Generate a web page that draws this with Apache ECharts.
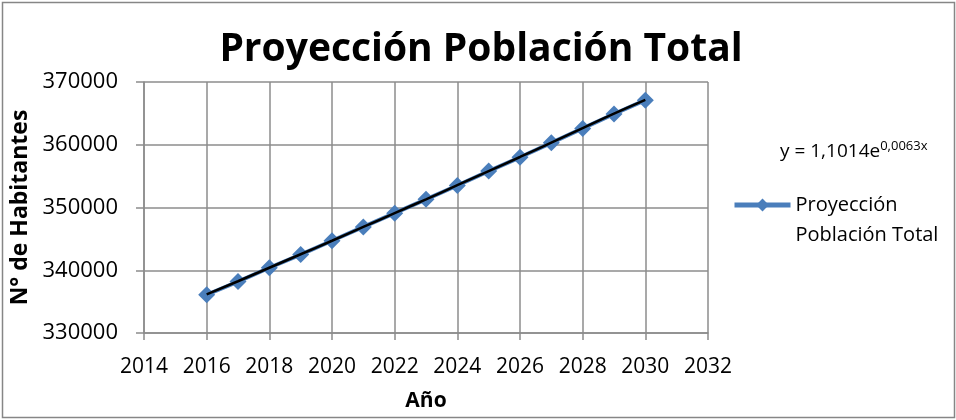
<!DOCTYPE html>
<html>
<head>
<meta charset="utf-8">
<script src="https://cdn.jsdelivr.net/npm/echarts@6/dist/echarts.min.js"></script>
<style>
  html, body { margin: 0; padding: 0; background: #fff; }
  #chart { width: 956px; height: 420px; }
</style>
</head>
<body>
<div id="chart"></div>
<script>
// datos
var years = [2016, 2017, 2018, 2019, 2020, 2021, 2022, 2023, 2024, 2025, 2026, 2027, 2028, 2029, 2030];
var population = [336100, 338200, 340400, 342500, 344700, 346900, 349100, 351300, 353500, 355800, 358000, 360300, 362600, 364900, 367100];
var trendValues = [336150, 338250, 340400, 342550, 344700, 346900, 349100, 351300, 353550, 355800, 358050, 360350, 362650, 364950, 367150];
var xTicks = [2014, 2016, 2018, 2020, 2022, 2024, 2026, 2028, 2030, 2032];
var yTicks = [330000, 340000, 350000, 360000, 370000];
var seriesName = "Proyección Población Total";
var equation = "y = 1,1014e{sup|0,0063x}";

var font = "'Open Sans', sans-serif";
var gridColor = "#8c8c8c";

function pairs(xs, ys) {
  var out = [];
  for (var i = 0; i < xs.length; i++) {
    out.push([xs[i], ys[i]]);
  }
  return out;
}

var chart = echarts.init(document.getElementById("chart"));
var option = {
  backgroundColor: "#fff",
  animation: false,
  textStyle: { fontFamily: font },
  title: [
    {
      text: "Proyección Población Total",
      left: 476,
      top: 25,
      textAlign: "center",
      textStyle: { fontSize: 39, fontWeight: "bold", color: "#000", fontFamily: font }
    },
    {
      text: equation,
      left: 775,
      top: 135,
      textStyle: {
        fontSize: 19,
        fontWeight: "normal",
        color: "#000",
        fontFamily: font,
        rich: {
          sup: { fontSize: 13, verticalAlign: "top", padding: [0, 0, 10, 0], fontFamily: font }
        }
      }
    }
  ],
  legend: {
    left: 727,
    top: 155,
    itemWidth: 56,
    itemHeight: 16,
    data: [seriesName],
    // línea vacía arriba para que el icono quede a la altura de la primera línea
    formatter: function () {
      return " \nProyección\nPoblación Total";
    },
    lineStyle: { width: 5 },
    textStyle: { fontSize: 20, color: "#000", lineHeight: 30, fontFamily: font }
  },
  grid: { left: 144, right: 248, top: 82, bottom: 87 },
  xAxis: {
    type: "value",
    min: 2014,
    max: 2032,
    interval: 2,
    name: "Año",
    nameLocation: "middle",
    nameGap: 58,
    nameTextStyle: { fontSize: 21, fontWeight: "bold", color: "#000" },
    axisLine: { lineStyle: { color: gridColor, width: 1.5 } },
    axisTick: { show: true, inside: false, length: 7, lineStyle: { color: gridColor, width: 1.5 } },
    axisLabel: {
      fontSize: 21, color: "#000", margin: 24,
      formatter: function (v) { return String(v); }
    },
    splitLine: { show: true, lineStyle: { color: gridColor, width: 1.5 } }
  },
  yAxis: {
    type: "value",
    min: 330000,
    max: 370000,
    interval: 10000,
    name: "N° de Habitantes",
    nameLocation: "middle",
    nameGap: 102,
    nameTextStyle: { fontSize: 23, fontWeight: "bold", color: "#000" },
    axisLine: { show: true, lineStyle: { color: gridColor, width: 1.5 } },
    axisTick: { show: true, inside: false, length: 8, lineStyle: { color: gridColor, width: 1.5 } },
    axisLabel: {
      fontSize: 22, color: "#000", margin: 26,
      formatter: function (v) { return String(v); }
    },
    splitLine: { show: true, lineStyle: { color: gridColor, width: 1.5 } }
  },
  series: [
    {
      name: seriesName,
      type: "line",
      data: pairs(years, population),
      symbol: "diamond",
      symbolSize: 17,
      showAllSymbol: true,
      lineStyle: { color: "#4a7ebb", width: 4 },
      itemStyle: { color: "#4a7ebb" },
      z: 2
    },
    {
      name: "Tendencia",
      type: "line",
      data: pairs(years, trendValues),
      symbol: "none",
      smooth: true,
      lineStyle: { color: "#000", width: 2.5 },
      z: 3
    }
  ],
  graphic: [
    {
      type: "rect",
      shape: { x: 2.5, y: 2.5, width: 952, height: 415 },
      style: { fill: null, stroke: "#868686", lineWidth: 1.5 },
      silent: true
    }
  ]
};
chart.setOption(option);
</script>
</body>
</html>
